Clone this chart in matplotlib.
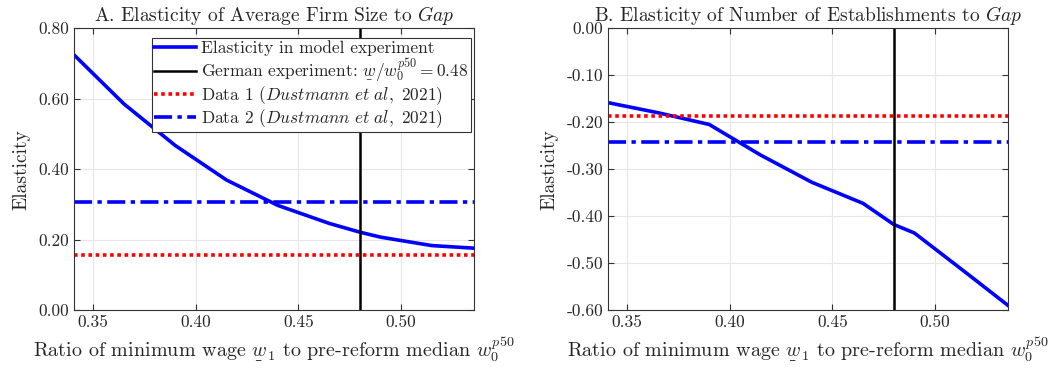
import matplotlib
matplotlib.use('agg')
import matplotlib.pyplot as plt

plt.rcParams['font.family'] = 'serif'
plt.rcParams['font.serif'] = ['cmr10']
plt.rcParams['mathtext.fontset'] = 'cm'
plt.rcParams['axes.unicode_minus'] = False
plt.rcParams['axes.formatter.use_mathtext'] = True
plt.rcParams['text.color'] = '#262626'
plt.rcParams['axes.labelcolor'] = '#262626'
plt.rcParams['xtick.labelcolor'] = '#262626'
plt.rcParams['ytick.labelcolor'] = '#262626'

# ratio of minimum wage to pre-reform median
ratio = [0.34, 0.365, 0.39, 0.415, 0.44, 0.465, 0.48, 0.49, 0.515, 0.54]
# panel A: elasticity of average firm size
firm_size = [0.728, 0.585, 0.467, 0.369, 0.297, 0.246, 0.221, 0.207, 0.183, 0.174]
# panel B: elasticity of number of establishments
n_estab = [-0.158, -0.18, -0.205, -0.27, -0.328, -0.373, -0.418, -0.436, -0.52, -0.605]

german = 0.48
data1 = [0.156, -0.188]
data2 = [0.307, -0.243]

xticks = [0.35, 0.40, 0.45, 0.50]
yticks_a = [0.0, 0.2, 0.4, 0.6, 0.8]
yticks_b = [-0.6, -0.5, -0.4, -0.3, -0.2, -0.1, 0.0]

# underlined w (mathtext has no \underline)
wbar = r'\underset{\_}{w}'

fig = plt.figure(figsize=(10.58, 3.70), dpi=100)
ax1 = fig.add_axes([0.070, 0.162, 0.378, 0.762])
ax2 = fig.add_axes([0.5747, 0.162, 0.378, 0.762])

titles = [r'A. Elasticity of Average Firm Size to $\mathit{Gap}$',
          r'B. Elasticity of Number of Establishments to $\mathit{Gap}$']

for i, (ax, y, yt) in enumerate([(ax1, firm_size, yticks_a), (ax2, n_estab, yticks_b)]):
    ax.plot(ratio, y, color='blue', lw=2.6, label='Elasticity in model experiment')
    ax.axvline(german, color='black', lw=1.8,
               label=r'German experiment: $' + wbar + r'/w_0^{p50} = 0.48$')
    ax.axhline(data1[i], color='red', lw=2.6, ls=(0, (1, 1)),
               label=r'Data 1 ($\mathit{Dustmann\ et\ al,\ 2021}$)')
    ax.axhline(data2[i], color='blue', lw=2.6, ls=(0, (5, 1.5, 1.2, 1.5)),
               label=r'Data 2 ($\mathit{Dustmann\ et\ al,\ 2021}$)')
    ax.set_xlim(0.3407, 0.5356)
    ax.set_ylim(yt[0], yt[-1])
    ax.set_xticks(xticks)
    ax.set_xticklabels([f'{v:.2f}' for v in xticks])
    ax.set_yticks(yt)
    ax.set_yticklabels([f'{v:.2f}' for v in yt])
    ax.grid(True, color='#e6e6e6', lw=0.8)
    ax.set_axisbelow(True)
    ax.tick_params(direction='in', labelsize=12.5, length=4, color='#333333',
                   top=True, right=True)
    for s in ax.spines.values():
        s.set_color('#333333')
        s.set_linewidth(0.8)
    ax.set_title(titles[i], fontsize=14, pad=5)
    ax.set_ylabel('Elasticity', fontsize=14, labelpad=6)
    ax.set_xlabel(r'Ratio of minimum wage $' + wbar + r'_1$ to pre-reform median $w_0^{p50}$',
                  fontsize=14.5, labelpad=4)

leg = ax1.legend(loc='upper right', bbox_to_anchor=(0.993, 0.965), borderaxespad=0,
                 fontsize=12.5, frameon=True, fancybox=False,
                 edgecolor='#333333', framealpha=1, borderpad=0.15, labelspacing=0.0,
                 handlelength=2.4, handletextpad=0.3)
leg.get_frame().set_linewidth(0.8)

fig.savefig('out.png', dpi=100)
